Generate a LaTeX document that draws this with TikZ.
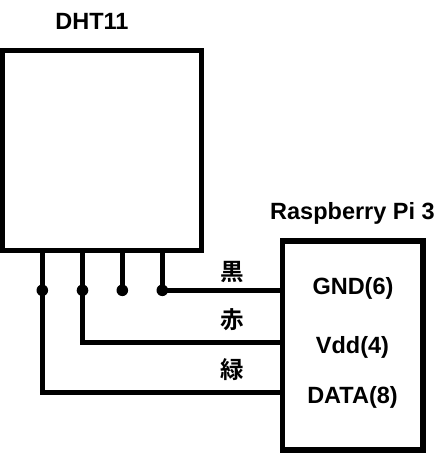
\documentclass[tikz,border=0pt]{standalone}
\usepackage{fontspec}
\setmainfont{Liberation Sans}
\newfontfamily\cjk{Noto Sans CJK JP}[BoldFont={* Bold}]
\tikzset{
  box/.style={draw,line width=5.2pt,fill=none,inner sep=0pt,outer sep=0pt},
  wire/.style={line width=4.8pt},
  dot/.style={circle,fill=black,inner sep=0pt,minimum size=11.6pt},
  lbl/.style={font=\fontsize{23.5}{26}\selectfont\bfseries,inner sep=0pt,anchor=base},
  kanji/.style={font=\cjk\fontsize{23.5}{26}\selectfont\bfseries,inner sep=0pt},
}
\begin{document}
\begin{tikzpicture}[x=1pt,y=-1pt]
\useasboundingbox (0,0) rectangle (437,453);
\node[box,minimum width=199pt,minimum height=200pt,anchor=north west] (dht) at (2.5,50.5) {};
\node[box,minimum width=140.5pt,minimum height=209pt,anchor=north west] (pi) at (282.5,241) {};
\node[lbl] (t1) at (92,29) {DHT11};
\node[lbl] (t2) at (352.5,219) {Raspberry Pi 3};
\node[lbl] (gnd) at (353,294) {GND(6)};
\node[lbl] (vdd) at (352.5,353.5) {Vdd(4)};
\node[lbl] (data) at (352.5,403.5) {DATA(8)};
\node[kanji] (k1) at (232,272) {黒};
\node[kanji] (k2) at (232,320) {赤};
\node[kanji] (k3) at (232,370) {緑};
\node[dot] (d1) at (42.3,290.3) {};
\node[dot] (d2) at (82.5,290.3) {};
\node[dot] (d3) at (122.3,290.3) {};
\node[dot] (d4) at (162.3,290.3) {};
\coordinate (p1) at (dht.south -| d1);
\coordinate (p2) at (dht.south -| d2);
\coordinate (p3) at (dht.south -| d3);
\coordinate (p4) at (dht.south -| d4);
\coordinate (c2) at (82.5,342.3);
\coordinate (c1) at (42.3,392.3);
\draw[wire] (p3) -- (d3.center);
\draw[wire] (p4) -- (d4.center) -- (d4 -| pi.west);
\draw[wire,line join=miter] (p2) -- (c2) -- (c2 -| pi.west);
\draw[wire,line join=miter] (p1) -- (c1) -- (c1 -| pi.west);
\end{tikzpicture}
\end{document}
